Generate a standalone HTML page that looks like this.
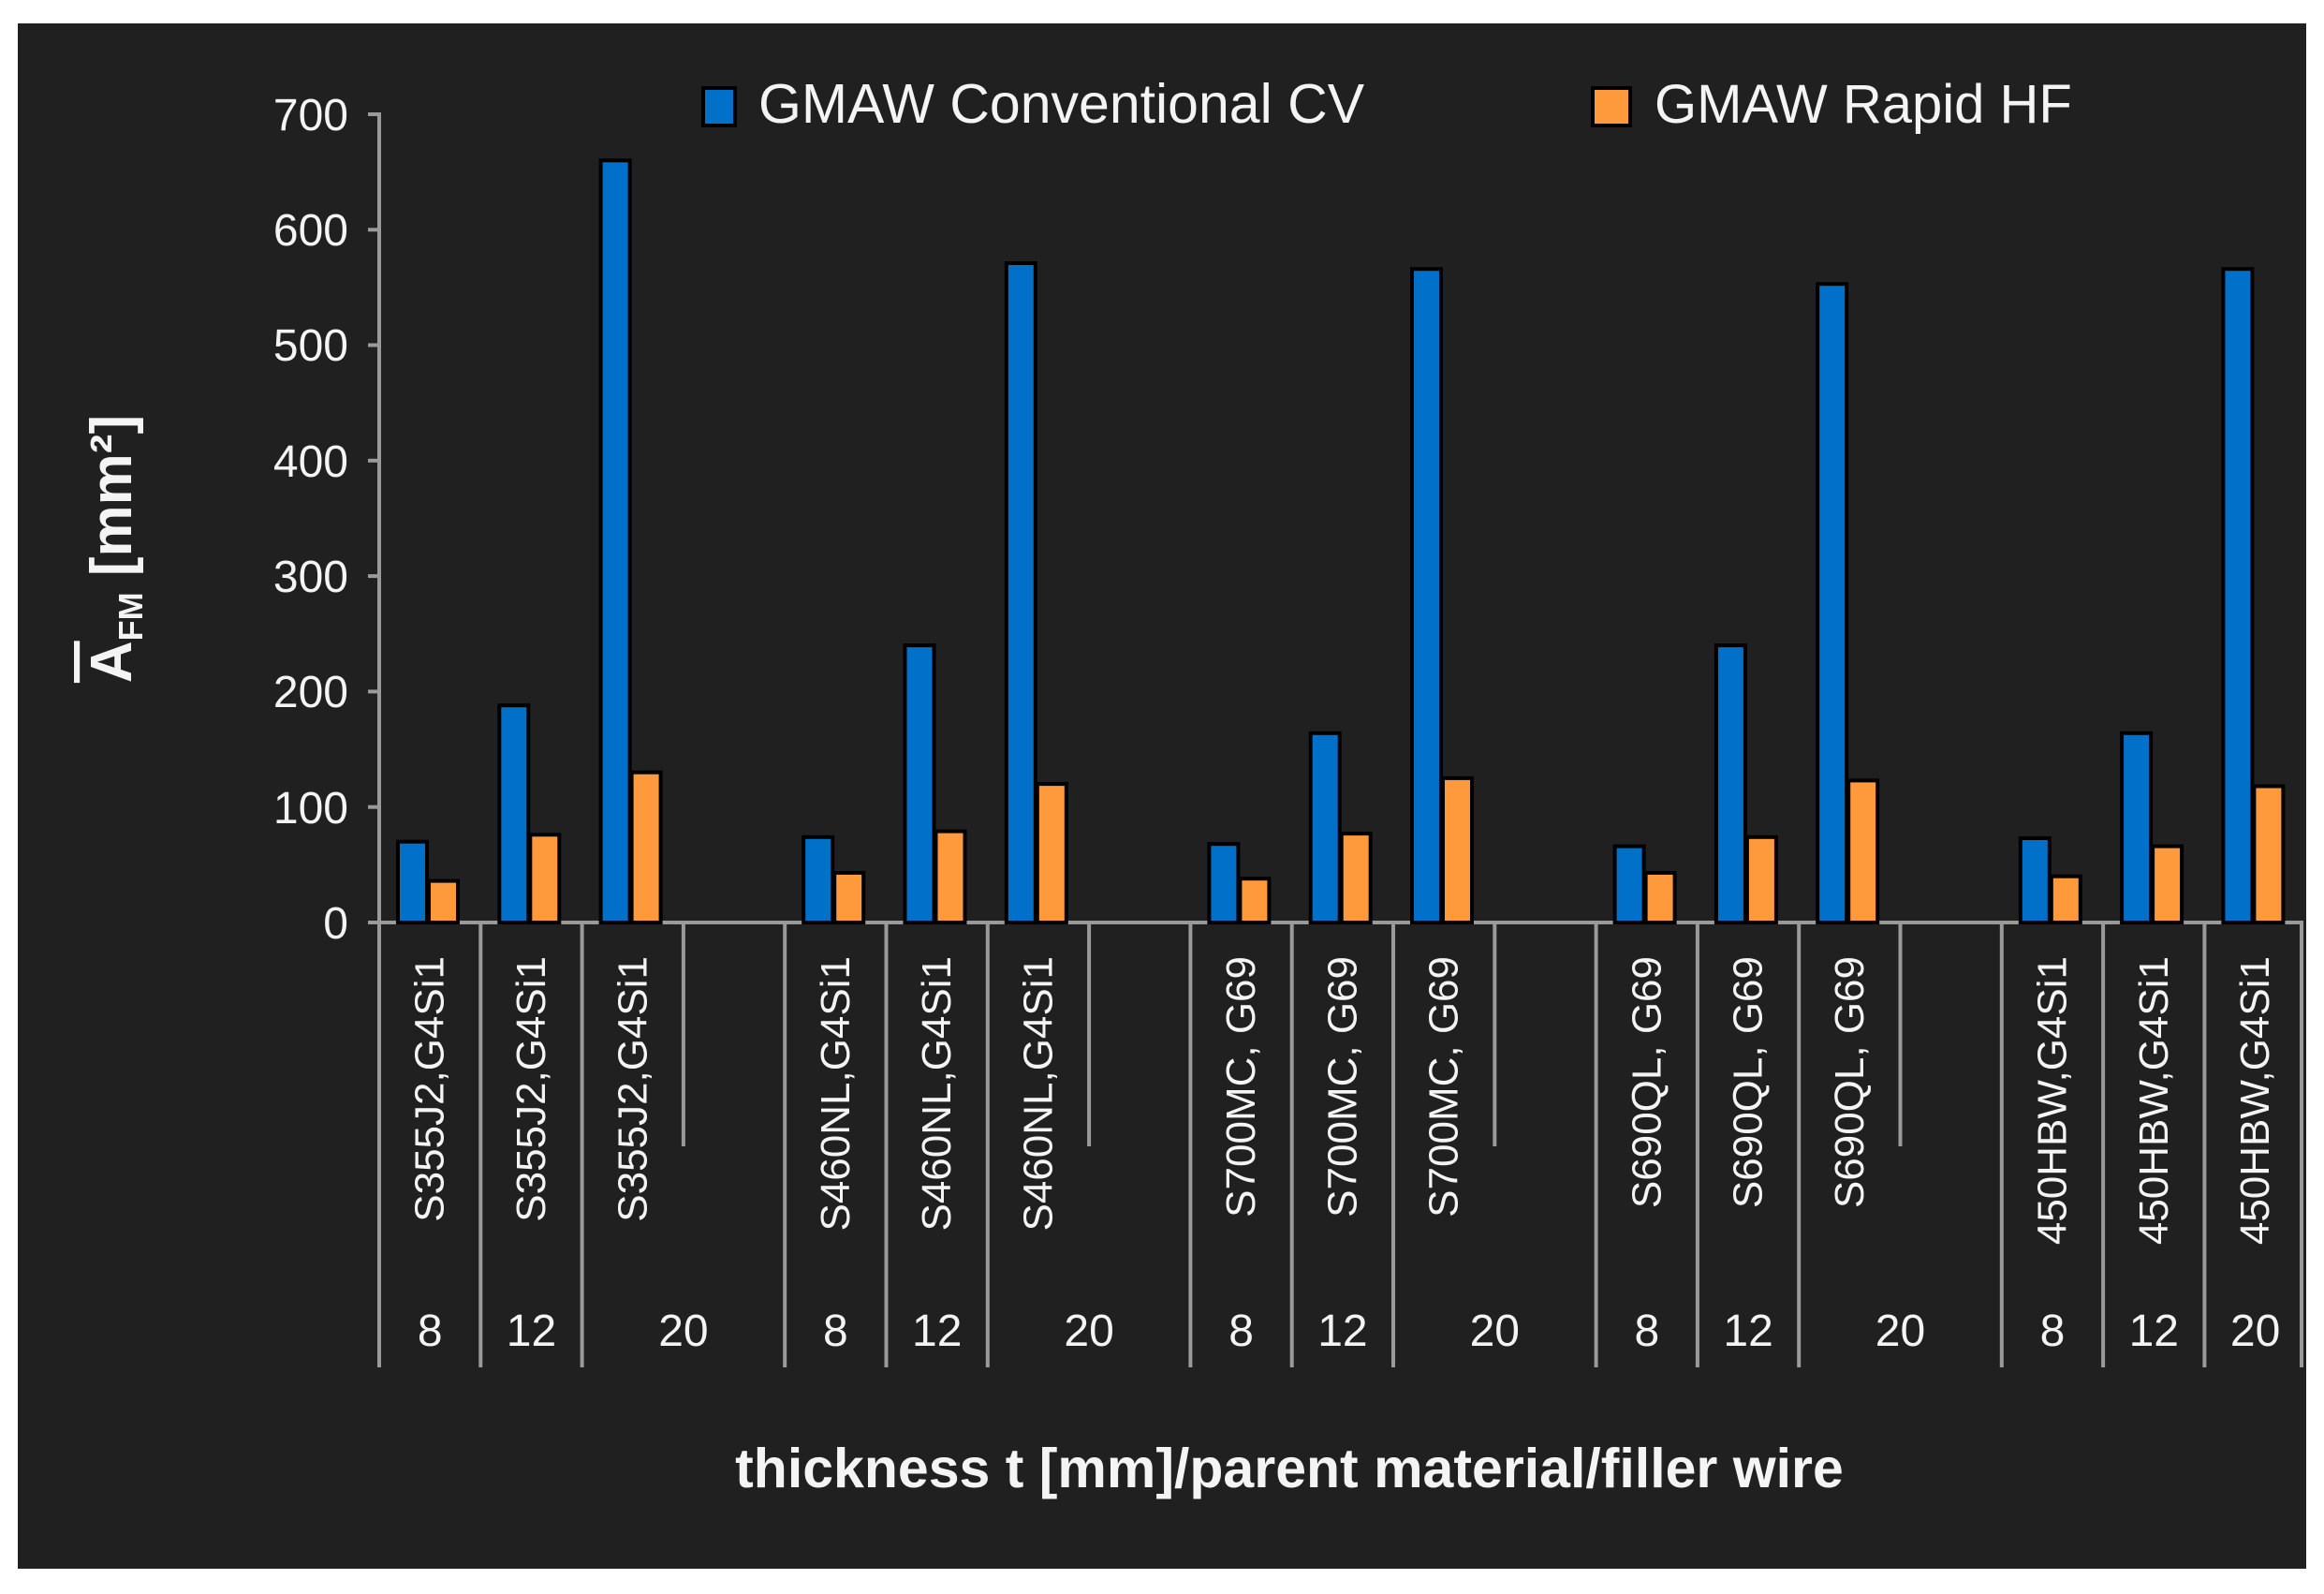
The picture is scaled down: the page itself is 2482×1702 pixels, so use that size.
<!DOCTYPE html>
<html><head><meta charset="utf-8"><style>
html,body{margin:0;padding:0;background:#fff;width:2482px;height:1702px;overflow:hidden}
svg{display:block}
text{font-family:"Liberation Sans",sans-serif;fill:#f4f4f4}
</style></head><body>
<svg width="2482" height="1702" viewBox="0 0 2482 1702" xmlns="http://www.w3.org/2000/svg">
<rect x="0" y="0" width="2482" height="1702" fill="#fff"/>
<rect x="19" y="25" width="2444" height="1650" fill="#202020"/>

<g stroke="#9a9a9a" stroke-width="4">
<line x1="405" y1="120" x2="405" y2="987"/>
<line x1="393" y1="122" x2="405" y2="122"/>
<line x1="393" y1="245.3" x2="405" y2="245.3"/>
<line x1="393" y1="368.5" x2="405" y2="368.5"/>
<line x1="393" y1="491.8" x2="405" y2="491.8"/>
<line x1="393" y1="615.1" x2="405" y2="615.1"/>
<line x1="393" y1="738.4" x2="405" y2="738.4"/>
<line x1="393" y1="861.7" x2="405" y2="861.7"/>
<line x1="393" y1="985" x2="2460" y2="985"/>
<line x1="405" y1="985" x2="405" y2="1460"/>
<line x1="513.3" y1="985" x2="513.3" y2="1460"/>
<line x1="621.6" y1="985" x2="621.6" y2="1460"/>
<line x1="838.2" y1="985" x2="838.2" y2="1460"/>
<line x1="946.5" y1="985" x2="946.5" y2="1460"/>
<line x1="1054.8" y1="985" x2="1054.8" y2="1460"/>
<line x1="1271.4" y1="985" x2="1271.4" y2="1460"/>
<line x1="1379.7" y1="985" x2="1379.7" y2="1460"/>
<line x1="1488" y1="985" x2="1488" y2="1460"/>
<line x1="1704.6" y1="985" x2="1704.6" y2="1460"/>
<line x1="1812.9" y1="985" x2="1812.9" y2="1460"/>
<line x1="1921.2" y1="985" x2="1921.2" y2="1460"/>
<line x1="2137.8" y1="985" x2="2137.8" y2="1460"/>
<line x1="2246.1" y1="985" x2="2246.1" y2="1460"/>
<line x1="2354.4" y1="985" x2="2354.4" y2="1460"/>
<line x1="2458" y1="985" x2="2458" y2="1460"/>
<line x1="729.9" y1="985" x2="729.9" y2="1224"/>
<line x1="1163.1" y1="985" x2="1163.1" y2="1224"/>
<line x1="1596.3" y1="985" x2="1596.3" y2="1224"/>
<line x1="2029.5" y1="985" x2="2029.5" y2="1224"/>
</g>

<g font-size="48" text-anchor="end">
<text x="372" y="139">700</text>
<text x="372" y="262">600</text>
<text x="372" y="385">500</text>
<text x="372" y="509">400</text>
<text x="372" y="632">300</text>
<text x="372" y="755">200</text>
<text x="372" y="879">100</text>
<text x="372" y="1002">0</text>
</g>

<g stroke="#000" stroke-width="4">
<rect x="425" y="898.7" width="31" height="86.3" fill="#0070c8"/>
<rect x="458" y="940.6" width="31" height="44.4" fill="#ff9a3c"/>
<rect x="533.3" y="753.2" width="31" height="231.8" fill="#0070c8"/>
<rect x="566.3" y="891.3" width="31" height="93.7" fill="#ff9a3c"/>
<rect x="641.6" y="171.3" width="31" height="813.7" fill="#0070c8"/>
<rect x="674.6" y="824.7" width="31" height="160.3" fill="#ff9a3c"/>
<rect x="858.2" y="893.8" width="31" height="91.2" fill="#0070c8"/>
<rect x="891.2" y="932" width="31" height="53" fill="#ff9a3c"/>
<rect x="966.5" y="689.1" width="31" height="295.9" fill="#0070c8"/>
<rect x="999.5" y="887.6" width="31" height="97.4" fill="#ff9a3c"/>
<rect x="1074.8" y="281" width="31" height="704" fill="#0070c8"/>
<rect x="1107.8" y="837.1" width="31" height="147.9" fill="#ff9a3c"/>
<rect x="1291.4" y="901.2" width="31" height="83.8" fill="#0070c8"/>
<rect x="1324.4" y="938.2" width="31" height="46.8" fill="#ff9a3c"/>
<rect x="1399.7" y="782.8" width="31" height="202.2" fill="#0070c8"/>
<rect x="1432.7" y="890.1" width="31" height="94.9" fill="#ff9a3c"/>
<rect x="1508" y="287.2" width="31" height="697.8" fill="#0070c8"/>
<rect x="1541" y="830.9" width="31" height="154.1" fill="#ff9a3c"/>
<rect x="1724.6" y="903.6" width="31" height="81.4" fill="#0070c8"/>
<rect x="1757.6" y="932" width="31" height="53" fill="#ff9a3c"/>
<rect x="1832.9" y="689.1" width="31" height="295.9" fill="#0070c8"/>
<rect x="1865.9" y="893.8" width="31" height="91.2" fill="#ff9a3c"/>
<rect x="1941.2" y="303.2" width="31" height="681.8" fill="#0070c8"/>
<rect x="1974.2" y="833.4" width="31" height="151.6" fill="#ff9a3c"/>
<rect x="2157.8" y="895" width="31" height="90" fill="#0070c8"/>
<rect x="2190.8" y="935.7" width="31" height="49.3" fill="#ff9a3c"/>
<rect x="2266.1" y="782.8" width="31" height="202.2" fill="#0070c8"/>
<rect x="2299.1" y="903.6" width="31" height="81.4" fill="#ff9a3c"/>
<rect x="2374.4" y="287.2" width="31" height="697.8" fill="#0070c8"/>
<rect x="2407.4" y="839.5" width="31" height="145.5" fill="#ff9a3c"/>
</g>

<g font-size="44" text-anchor="end" dominant-baseline="central">
<text transform="translate(459.2,1021) rotate(-90)">S355J2,G4Si1</text>
<text transform="translate(567.5,1021) rotate(-90)">S355J2,G4Si1</text>
<text transform="translate(675.8,1021) rotate(-90)">S355J2,G4Si1</text>
<text transform="translate(892.4,1021) rotate(-90)">S460NL,G4Si1</text>
<text transform="translate(1000.7,1021) rotate(-90)">S460NL,G4Si1</text>
<text transform="translate(1109,1021) rotate(-90)">S460NL,G4Si1</text>
<text transform="translate(1325.6,1021) rotate(-90)">S700MC, G69</text>
<text transform="translate(1433.9,1021) rotate(-90)">S700MC, G69</text>
<text transform="translate(1542.2,1021) rotate(-90)">S700MC, G69</text>
<text transform="translate(1758.8,1021) rotate(-90)">S690QL, G69</text>
<text transform="translate(1867.1,1021) rotate(-90)">S690QL, G69</text>
<text transform="translate(1975.4,1021) rotate(-90)">S690QL, G69</text>
<text transform="translate(2192,1021) rotate(-90)">450HBW,G4Si1</text>
<text transform="translate(2300.3,1021) rotate(-90)">450HBW,G4Si1</text>
<text transform="translate(2408.6,1021) rotate(-90)">450HBW,G4Si1</text>
</g>

<g font-size="48" text-anchor="middle">
<text x="459.2" y="1437">8</text>
<text x="567.5" y="1437">12</text>
<text x="729.9" y="1437">20</text>
<text x="892.4" y="1437">8</text>
<text x="1000.7" y="1437">12</text>
<text x="1163.1" y="1437">20</text>
<text x="1325.6" y="1437">8</text>
<text x="1433.9" y="1437">12</text>
<text x="1596.3" y="1437">20</text>
<text x="1758.8" y="1437">8</text>
<text x="1867.1" y="1437">12</text>
<text x="2029.5" y="1437">20</text>
<text x="2192" y="1437">8</text>
<text x="2300.3" y="1437">12</text>
<text x="2408.6" y="1437">20</text>
</g>

<text x="1377" y="1588" font-size="59" font-weight="bold" text-anchor="middle">thickness t [mm]/parent material/filler wire</text>

<g transform="translate(140,586) rotate(-90)">
<text x="0" y="0" font-size="62" font-weight="bold" text-anchor="middle"><tspan text-decoration="overline">A</tspan><tspan font-size="36" dy="12">FM</tspan><tspan dy="-12"> [mm²]</tspan></text>
</g>

<rect x="751" y="94" width="34" height="40" fill="#0070c8" stroke="#000" stroke-width="4"/>
<text x="810" y="131" font-size="59">GMAW Conventional CV</text>
<rect x="1701" y="94" width="40" height="40" fill="#ff9a3c" stroke="#000" stroke-width="4"/>
<text x="1767" y="131" font-size="58">GMAW Rapid HF</text>
</svg>
</body></html>
